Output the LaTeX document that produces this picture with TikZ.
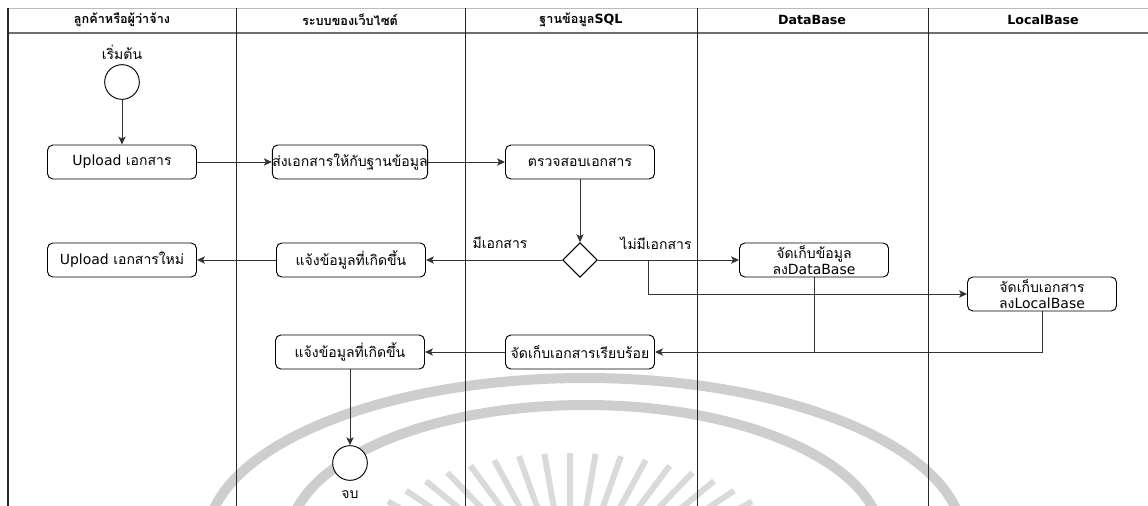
\documentclass[tikz,border=0pt]{standalone}
\usepackage{fontspec}
\setmainfont{DejaVu Sans}
\newfontfamily\thai[Script=Thai]{Loma}
\usetikzlibrary{arrows.meta,shapes.geometric,calc}

\definecolor{wmband}{HTML}{CECECE}
\definecolor{wmray}{HTML}{DADADA}
\definecolor{flow}{HTML}{333333}
\definecolor{headline}{HTML}{6E6E6E}
\definecolor{topline}{HTML}{BBBBBB}

\begin{document}
\begin{tikzpicture}[x=0.75pt,y=-0.75pt,
  every node/.style={font=\fontsize{10.5}{12.5}\selectfont},
  act/.style={draw=black,line width=0.7pt,rounded corners=4pt,fill=white,
    minimum width=111.75pt,minimum height=25.5pt,inner sep=0pt,align=center},
  term/.style={draw=black,line width=0.7pt,circle,fill=white,minimum size=26pt,inner sep=0pt},
  decision/.style={draw=black,line width=0.7pt,diamond,fill=white,minimum size=26pt,inner sep=0pt},
  lbl/.style={inner sep=1pt},
  head/.style={font=\fontsize{9.5}{11}\selectfont\bfseries,inner sep=0pt},
  flowline/.style={draw=flow,line width=0.75pt},
  arr/.style={flowline,-{Stealth[length=6pt,width=5.5pt,inset=1.5pt]}},
  lane/.style={draw=black!85,line width=0.75pt},
  band/.style={draw=wmband,line width=7.5pt},
  ray/.style={draw=wmray,line width=4.5pt}]

\useasboundingbox (0,0) rectangle (1148,506);

% faint emblem behind the lanes
\begin{scope}
  \clip (0,0) rectangle (1148,506);
  \draw[band] (585,540) ellipse[x radius=378,y radius=162];
  \draw[band] (585,540) ellipse[x radius=296,y radius=135];
  \begin{scope}[shift={(570,600)},yscale=0.6]
    \foreach \a in {36,42,...,144}
      \draw[ray] (-\a:100) -- (-\a:245);
  \end{scope}
\end{scope}

% swimlane frame
\draw[draw=topline,line width=0.6pt] (8,8) -- (1148,8);
\draw[draw=headline,line width=1.5pt] (8,33) -- (1148,33);
\draw[lane,line width=1.2pt] (8,8) -- (8,506);
\foreach \x in {236,465,697,928}
  \draw[lane] (\x,8) -- (\x,506);

% lane titles
\node[head] (h1) at (122,20) {\thai ลูกค้าหรือผู้ว่าจ้าง};
\node[head] (h2) at (350,20) {\thai ระบบของเว็บไซต์};
\node[head] (h3) at (581,20) {{\thai ฐานข้อมูล}SQL};
\node[head] (h4) at (812,20) {DataBase};
\node[head] (h5) at (1043,20) {LocalBase};

% activities
\node[lbl] (startlbl) at (122,52) {\thai เริ่มต้น};
\node[term] (start) at (122,82) {};
\node[act] (upload) at (122,162) {Upload {\thai เอกสาร}};
\node[act] (send) at (350,162) {\thai ส่งเอกสารให้กับฐานข้อมูล};
\node[act] (check) at (580,162) {\thai ตรวจสอบเอกสาร};
\node[decision] (dec) at (580,260) {};
\node[lbl] (yes) at (500,243) {\thai มีเอกสาร};
\node[lbl] (no) at (656,243) {\thai ไม่มีเอกสาร};
\node[act] (notify1) at (351,260) {\thai แจ้งข้อมูลที่เกิดขึ้น};
\node[act] (reupload) at (122,260) {Upload {\thai เอกสารใหม่}};
\node[act] (storedb) at (814,260) {{\thai จัดเก็บข้อมูล}\\{\thai ลง}DataBase};
\node[act] (storelocal) at (1042,294) {{\thai จัดเก็บเอกสาร}\\{\thai ลง}LocalBase};
\node[act] (done) at (580,352) {\thai จัดเก็บเอกสารเรียบร้อย};
\node[act] (notify2) at (350,352) {\thai แจ้งข้อมูลที่เกิดขึ้น};
\node[term] (end) at (350,463) {};
\node[lbl] (endlbl) at (350,495) {\thai จบ};

% flow
\coordinate (split) at (648,260);
\coordinate (join) at (814,352);
\draw[arr] (start) -- (upload);
\draw[arr] (upload) -- (send);
\draw[arr] (send) -- (check);
\draw[arr] (check) -- (dec);
\draw[arr] (dec) -- (notify1);
\draw[arr] (notify1) -- (reupload);
\draw[arr] (dec) -- (storedb);
\draw[arr] (split) |- (storelocal.west);
\draw[flowline] (storedb.south) -- (join);
\draw[arr] (storelocal.south) |- (done.east);
\draw[arr] (done) -- (notify2);
\draw[arr] (notify2) -- (end);
\end{tikzpicture}
\end{document}
